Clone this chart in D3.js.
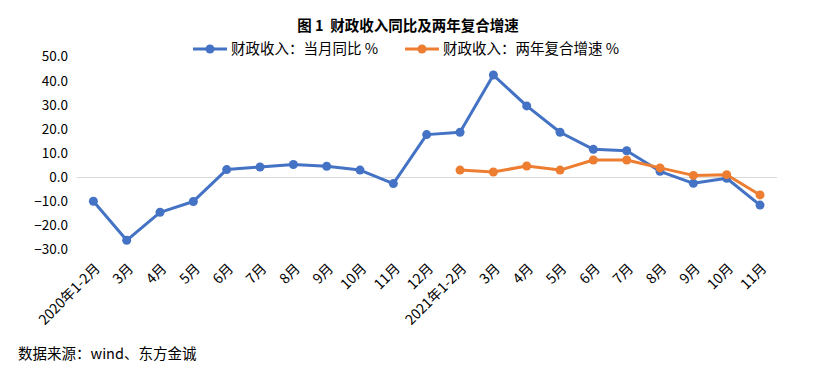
<!DOCTYPE html>
<html>
<head>
<meta charset="utf-8">
<script src="https://cdn.jsdelivr.net/npm/d3@7"></script>
<style>
  body { margin: 0; background: #fff; }
  svg text { font-family: "Microsoft YaHei", "Noto Sans CJK SC", sans-serif; fill: #000; white-space: pre; }
</style>
</head>
<body>
<div id="chart"></div>
<script>
const categories = ["2020年1-2月", "3月", "4月", "5月", "6月", "7月", "8月", "9月", "10月", "11月", "12月",
    "2021年1-2月", "3月", "4月", "5月", "6月", "7月", "8月", "9月", "10月", "11月"];
const monthlyYoY = [-9.9, -26.1, -14.5, -10.0, 3.2, 4.3, 5.3, 4.6, 3.0, -2.6, 17.7,
    18.7, 42.4, 29.6, 18.7, 11.6, 11.0, 2.5, -2.5, -0.4, -11.5];
const twoYearCAGR = [null, null, null, null, null, null, null, null, null, null, null,
    3.0, 2.2, 4.7, 3.0, 7.2, 7.2, 3.9, 0.8, 1.1, -7.3];
const yTicks = [-30, -20, -10, 0, 10, 20, 30, 40, 50];
const seriesNames = ["财政收入：当月同比 %", "财政收入：两年复合增速 %"];
const colors = ["#4472C4", "#ED7D31"];

const width = 816, height = 370;

const svg = d3.select("#chart").append("svg")
    .attr("width", width)
    .attr("height", height);

// title
svg.append("text")
    .attr("x", 408)
    .attr("y", 31)
    .attr("text-anchor", "middle")
    .style("font-size", "14.5px")
    .style("font-weight", "bold")
    .text("图 1  财政收入同比及两年复合增速");

// scales
const x = d3.scaleBand()
    .domain(d3.range(categories.length))
    .range([76.7, 776.7]);

const y = d3.scaleLinear()
    .domain([-30, 50])
    .range([249.7, 56.7]);

// zero line
svg.append("line")
    .attr("x1", x.range()[0])
    .attr("x2", x.range()[1])
    .attr("y1", y(0))
    .attr("y2", y(0))
    .attr("stroke", "#d9d9d9")
    .attr("stroke-width", 1)
    .attr("shape-rendering", "crispEdges");

// y labels
svg.selectAll("text.yLabel").data(yTicks)
    .enter()
    .append("text")
    .attr("class", "yLabel")
    .attr("x", 68)
    .attr("y", d => y(d))
    .attr("dy", "0.35em")
    .attr("text-anchor", "end")
    .style("font-size", "13.5px")
    .text(d => d3.format(".1f")(d));

// x labels, rotated
svg.selectAll("text.xLabel").data(categories)
    .enter()
    .append("text")
    .attr("class", "xLabel")
    .attr("text-anchor", "end")
    .style("font-size", "14px")
    .attr("transform", (d, i) => "translate(" + (x(i) + x.bandwidth() / 2 + 4) + ",266) rotate(-45)")
    .attr("dy", "0.35em")
    .text(d => d);

const cx = i => x(i) + x.bandwidth() / 2;

const line = d3.line()
    .defined(d => d != null)
    .x((d, i) => cx(i))
    .y(d => y(d));

[monthlyYoY, twoYearCAGR].forEach((values, k) => {
    svg.append("path")
        .datum(values)
        .attr("fill", "none")
        .attr("stroke", colors[k])
        .attr("stroke-width", 3)
        .attr("stroke-linejoin", "round")
        .attr("d", line);

    svg.selectAll("circle.s" + k)
        .data(values.map((v, i) => ({v, i})).filter(d => d.v != null))
        .enter()
        .append("circle")
        .attr("class", "s" + k)
        .attr("cx", d => cx(d.i))
        .attr("cy", d => y(d.v))
        .attr("r", 4.5)
        .attr("fill", colors[k]);
});

// legend
const legendX = [193, 405];
seriesNames.forEach((name, k) => {
    const g = svg.append("g").attr("transform", "translate(" + legendX[k] + ",49)");
    g.append("line")
        .attr("x1", 0).attr("x2", 34)
        .attr("stroke", colors[k])
        .attr("stroke-width", 3);
    g.append("circle")
        .attr("cx", 17)
        .attr("r", 4.5)
        .attr("fill", colors[k]);
    g.append("text")
        .attr("x", 38)
        .attr("dy", "0.35em")
        .style("font-size", "14.5px")
        .text(name);
});

// source
svg.append("text")
    .attr("x", 18)
    .attr("y", 359)
    .style("font-size", "14.5px")
    .text("数据来源：wind、东方金诚");
</script>
</body>
</html>
